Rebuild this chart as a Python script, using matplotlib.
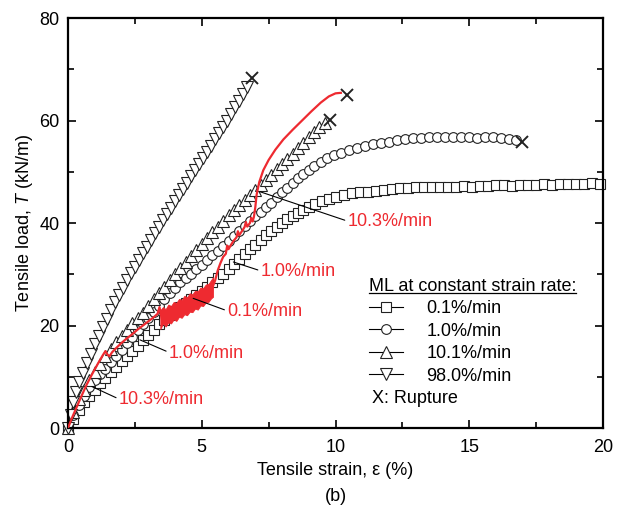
import numpy as np
import matplotlib
matplotlib.use("Agg")
import matplotlib.pyplot as plt
from matplotlib.lines import Line2D
from matplotlib.ticker import MultipleLocator

plt.rcParams['font.family'] = ['Liberation Sans', 'DejaVu Sans']
plt.rcParams['mathtext.fontset'] = 'custom'
plt.rcParams['mathtext.rm'] = 'Liberation Sans'
plt.rcParams['mathtext.it'] = 'Liberation Sans:italic'
plt.rcParams['font.size'] = 13

# ---- data: (strain %, load kN/m) ----
ml_01 = [(0, 0), (0.2, 1.8), (0.4, 3.5), (0.6, 5.0), (0.8, 6.2), (1.0, 7.5), (1.2, 8.7), (1.4, 9.8),
         (1.6, 10.9), (1.8, 11.9), (2.0, 13.0), (2.2, 14.1), (2.4, 15.1), (2.6, 16.1), (2.8, 17.2),
         (3.0, 18.2), (3.2, 19.2), (3.4, 20.2), (3.6, 21.1), (3.8, 22.0), (4.0, 22.8), (4.2, 23.6),
         (4.4, 24.4), (4.6, 25.2), (4.8, 26.0), (5.0, 26.8), (5.2, 27.6), (5.4, 28.4), (5.6, 29.2),
         (5.8, 30.0), (6.0, 31.0), (6.2, 32.0), (6.4, 33.0), (6.6, 34.0), (6.8, 34.9), (7.0, 35.8),
         (7.2, 36.7), (7.4, 37.6), (7.6, 38.4), (7.8, 39.2), (8.0, 40.0), (8.2, 40.7), (8.4, 41.4),
         (8.6, 42.0), (8.8, 42.6), (9.0, 43.1), (9.25, 43.7), (9.5, 44.2), (9.75, 44.7), (10.0, 45.1),
         (10.3, 45.5), (10.6, 45.8), (10.9, 46.0), (11.2, 46.1), (11.5, 46.3), (11.8, 46.5), (12.1, 46.7),
         (12.4, 46.8), (12.7, 46.9), (13.0, 47.0), (13.3, 47.0), (13.6, 47.1), (13.9, 47.0), (14.2, 47.1),
         (14.5, 47.1), (14.8, 47.2), (15.1, 47.1), (15.4, 47.2), (15.7, 47.3), (16.0, 47.4), (16.3, 47.4),
         (16.6, 47.3), (16.9, 47.4), (17.2, 47.5), (17.5, 47.5), (17.8, 47.6), (18.1, 47.5), (18.4, 47.6),
         (18.7, 47.7), (19.0, 47.7), (19.3, 47.6), (19.6, 47.8), (19.9, 47.7)]

ml_10 = [(0, 0), (0.2, 2.5), (0.4, 4.5), (0.6, 6.3), (0.8, 8.0), (1.0, 9.3), (1.2, 10.5), (1.4, 11.6),
         (1.6, 12.8), (1.8, 14.1), (2.0, 15.3), (2.2, 16.6), (2.4, 17.8), (2.6, 19.1), (2.8, 20.3),
         (3.0, 21.5), (3.2, 22.7), (3.4, 23.9), (3.6, 25.1), (3.8, 26.3), (4.0, 27.4), (4.2, 28.4),
         (4.4, 29.3), (4.6, 30.1), (4.8, 31.0), (5.0, 31.9), (5.2, 32.8), (5.4, 33.7), (5.6, 34.6),
         (5.8, 35.5), (6.0, 36.4), (6.2, 37.4), (6.4, 38.4), (6.6, 39.4), (6.8, 40.4), (7.0, 41.3),
         (7.2, 42.2), (7.4, 43.1), (7.6, 44.0), (7.8, 45.0), (8.0, 46.0), (8.2, 46.9), (8.4, 47.8),
         (8.6, 48.7), (8.8, 49.6), (9.0, 50.4), (9.2, 51.1), (9.45, 51.9), (9.7, 52.6), (9.95, 53.2),
         (10.2, 53.7), (10.5, 54.2), (10.8, 54.7), (11.1, 55.1), (11.4, 55.4), (11.7, 55.7), (12.0, 55.9),
         (12.3, 56.1), (12.6, 56.3), (12.9, 56.5), (13.2, 56.6), (13.5, 56.7), (13.8, 56.8), (14.1, 56.8),
         (14.4, 56.7), (14.7, 56.8), (15.0, 56.7), (15.3, 56.5), (15.6, 56.7), (15.9, 56.8), (16.2, 56.6),
         (16.5, 56.3), (16.75, 56.2)]

ml_101 = [(0, 0), (0.2, 3.2), (0.4, 5.6), (0.6, 7.5), (0.8, 9.3), (1.0, 11.0), (1.2, 12.5), (1.4, 14.0),
          (1.6, 15.4), (1.8, 16.8), (2.0, 18.0), (2.2, 19.2), (2.4, 20.4), (2.6, 21.4), (2.8, 22.5),
          (3.0, 23.8), (3.2, 25.1), (3.4, 26.4), (3.6, 27.6), (3.8, 28.9), (4.0, 30.0), (4.2, 31.2),
          (4.4, 32.4), (4.6, 33.6), (4.8, 34.8), (5.0, 36.0), (5.2, 37.0), (5.4, 38.2), (5.6, 39.3),
          (5.8, 40.4), (6.0, 41.5), (6.2, 42.5), (6.4, 43.5), (6.6, 44.5), (6.8, 45.5), (7.0, 46.5),
          (7.2, 47.4), (7.4, 48.4), (7.6, 49.4), (7.8, 50.5), (8.0, 51.5), (8.2, 52.5), (8.4, 53.5),
          (8.6, 54.6), (8.8, 55.6), (9.0, 56.7), (9.2, 57.8), (9.4, 58.8), (9.6, 59.6)]

ml_980 = [(0, 0), (0.1, 2.5), (0.2, 5.0), (0.3, 7.0), (0.42, 9.0), (0.55, 10.8), (0.7, 12.6), (0.85, 14.4),
          (1.0, 16.3), (1.15, 18.0), (1.3, 19.7), (1.45, 21.3), (1.6, 23.0), (1.75, 24.5), (1.9, 26.0),
          (2.05, 27.4), (2.2, 28.8), (2.35, 30.2), (2.5, 31.5), (2.65, 32.8), (2.8, 34.1), (2.95, 35.4),
          (3.1, 36.7), (3.25, 38.0), (3.4, 39.3), (3.55, 40.5), (3.7, 41.8), (3.85, 43.0), (4.0, 44.3),
          (4.15, 45.5), (4.3, 46.7), (4.45, 47.9), (4.6, 49.1), (4.75, 50.3), (4.9, 51.5), (5.05, 52.7),
          (5.2, 53.9), (5.35, 55.1), (5.5, 56.3), (5.65, 57.5), (5.8, 58.8), (5.95, 60.0), (6.1, 61.3),
          (6.25, 62.6), (6.4, 63.9), (6.55, 65.2), (6.7, 66.6)]

# multi-rate test (red), split around the noisy 0.1%/min hold
red_a = [(0, 0), (0.15, 2.0), (0.3, 3.8), (0.5, 6.2), (0.7, 8.5), (0.9, 10.5), (1.1, 12.4), (1.3, 14.2),
         (1.4, 15.0), (1.48, 14.3), (1.55, 14.0), (1.65, 14.8), (1.8, 15.6), (2.0, 16.6), (2.2, 17.5),
         (2.4, 18.3), (2.6, 19.2), (2.8, 20.0), (3.0, 20.8), (3.2, 21.6), (3.35, 22.3), (3.42, 23.6),
         (3.47, 22.2), (3.52, 21.0)]
noise_x = [3.45, 3.55, 3.65, 3.75, 3.85, 3.95, 4.05, 4.15, 4.25, 4.35, 4.45, 4.55, 4.65, 4.75,
           4.85, 4.95, 5.05, 5.15, 5.25, 5.35, 5.42]
noise_lo = [19.3, 20.4, 19.8, 20.6, 20.4, 21.2, 20.9, 21.7, 21.5, 22.2, 22.0, 22.7, 22.6, 23.3,
            23.1, 23.9, 23.8, 24.5, 24.6, 25.3, 25.6]
noise_hi = [23.0, 23.6, 23.2, 24.1, 23.8, 24.6, 24.4, 25.2, 25.0, 25.8, 25.5, 26.3, 26.1, 26.8,
            26.7, 27.4, 27.3, 28.0, 28.1, 28.9, 29.4]
red_b = [(5.4, 27.4), (5.5, 28.8), (5.6, 30.8), (5.7, 32.2), (5.8, 33.4), (5.9, 34.0), (5.95, 35.6),
         (6.0, 34.9), (6.1, 35.8), (6.2, 36.6), (6.3, 37.2), (6.35, 38.4), (6.4, 37.6), (6.5, 38.4),
         (6.6, 39.2), (6.65, 40.2), (6.7, 39.3), (6.8, 40.0), (6.85, 41.0), (6.9, 40.3), (6.95, 41.2),
         (7.0, 43.0), (7.05, 45.5), (7.15, 48.0), (7.3, 50.3), (7.5, 52.3), (7.75, 54.3), (8.05, 56.3),
         (8.4, 58.2), (8.75, 60.0), (9.1, 61.8), (9.45, 63.5), (9.75, 64.7), (10.0, 65.3), (10.2, 65.4)]

rupture = [(6.87, 68.2), (9.79, 60.1), (10.42, 65.0), (16.96, 55.9)]

series_labels = ['0.1%/min', '1.0%/min', '10.1%/min', '98.0%/min']
series_markers = ['s', 'o', '^', 'v']

# red labels: text, text position, leader start
red_notes = [('10.3%/min', (10.45, 40.2), (7.18, 46.1)),
             ('1.0%/min', (7.2, 30.5), (6.18, 32.4)),
             ('0.1%/min', (5.95, 22.7), (4.68, 25.3)),
             ('1.0%/min', (3.77, 14.6), (2.69, 17.2)),
             ('10.3%/min', (1.9, 5.5), (0.89, 8.1))]

RED = '#ee2a30'

fig = plt.figure(figsize=(6.28, 5.16), dpi=100)
ax = fig.add_axes([0.1083, 0.1705, 0.8519, 0.7946])

handles = []
for data, mk, lab in zip([ml_01, ml_10, ml_101, ml_980], series_markers, series_labels):
    xs, ys = np.array(data).T
    ms = 7.0 if mk in ('s', 'o') else 8.2
    h, = ax.plot(xs, ys, color='k', lw=0.8, marker=mk, ms=ms, mfc='white',
                 mec='#222222', mew=0.8, label=lab, clip_on=False)
    handles.append(h)

xa, ya = np.array(red_a).T
ax.plot(xa, ya, color=RED, lw=1.6, zorder=5)
ax.fill_between(noise_x, noise_lo, noise_hi, color=RED, lw=0.6, zorder=5)
xb, yb = np.array(red_b).T
ax.plot(xb, yb, color=RED, lw=1.6, zorder=5)

rx, ry = np.array(rupture).T
ax.plot(rx, ry, ls='none', marker='x', ms=9, mew=1.4, color='#222222', zorder=6)

for txt, pos, start in red_notes:
    ax.annotate(txt, xy=start, xytext=pos, color=RED, fontsize=13, ha='left', va='center',
                arrowprops=dict(arrowstyle='-', color='k', lw=0.8, shrinkA=0, shrinkB=0,
                                relpos=(0, 0.55)), zorder=7)

ax.set_xlim(0, 20)
ax.set_ylim(0, 80)
ax.xaxis.set_major_locator(MultipleLocator(5))
ax.xaxis.set_minor_locator(MultipleLocator(2.5))
ax.yaxis.set_major_locator(MultipleLocator(20))
ax.yaxis.set_minor_locator(MultipleLocator(10))
ax.tick_params(which='both', direction='in', top=True, right=True, width=1.2, labelsize=13)
ax.tick_params(which='major', length=6, pad=6)
ax.tick_params(which='minor', length=4)
ax.tick_params(axis='x', which='major', pad=8)
for s in ax.spines.values():
    s.set_linewidth(1.6)

ax.set_xlabel('Tensile strain, ε (%)', fontsize=13, labelpad=4)
ax.set_ylabel(r'Tensile load, $\mathit{T}$ (kN/m)', fontsize=13, labelpad=3)
fig.text(0.535, 0.037, '(b)', ha='center', va='center', fontsize=13)

leg = ax.legend(handles=handles, loc='upper left', bbox_to_anchor=(0.562, 0.366), frameon=False,
                title='ML at constant strain rate:', alignment='left',
                fontsize=13, title_fontsize=13, handlelength=1.9, handletextpad=1.3,
                labelspacing=0.30, borderpad=0, borderaxespad=0)
ax.text(11.36, 5.85, 'X: Rupture', fontsize=13, ha='left', va='center')

# underline the legend title
fig.canvas.draw()
bb = leg.get_title().get_window_extent().transformed(fig.transFigure.inverted())
fig.add_artist(Line2D([bb.x0, bb.x1], [bb.y0 + 0.004, bb.y0 + 0.004], color='k', lw=0.9,
                      transform=fig.transFigure))

fig.savefig('out.png', dpi=100)
